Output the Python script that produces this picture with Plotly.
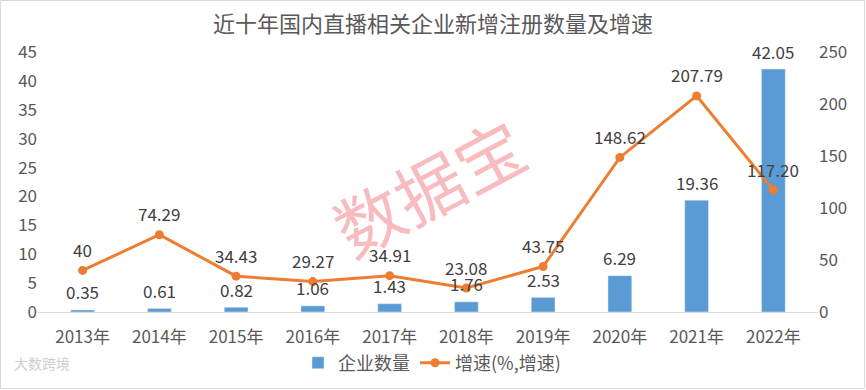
import plotly.graph_objects as go

years = ["2013年", "2014年", "2015年", "2016年", "2017年", "2018年", "2019年", "2020年", "2021年", "2022年"]
counts = [0.35, 0.61, 0.82, 1.06, 1.43, 1.76, 2.53, 6.29, 19.36, 42.05]
count_labels = ["0.35", "0.61", "0.82", "1.06", "1.43", "1.76", "2.53", "6.29", "19.36", "42.05"]
growth = [40, 74.29, 34.43, 29.27, 34.91, 23.08, 43.75, 148.62, 207.79, 117.20]
growth_labels = ["40", "74.29", "34.43", "29.27", "34.91", "23.08", "43.75", "148.62", "207.79", "117.20"]
left_ticks = [0, 5, 10, 15, 20, 25, 30, 35, 40, 45]
right_ticks = [0, 50, 100, 150, 200, 250]

FONT = "Noto Sans CJK SC, DejaVu Sans, sans-serif"
W, H = 866, 390
ML, MR, MT, MB = 38, 48, 52, 78
PW, PH = W - ML - MR, H - MT - MB

fig = go.Figure()
fig.add_trace(go.Bar(x=years, y=counts, name="企业数量", marker_color="#5B9BD5",
                     yaxis="y", hoverinfo="skip"))
fig.add_trace(go.Scatter(x=years, y=growth, name="增速(%,增速)", mode="lines+markers",
                         line=dict(color="#ED7D31", width=3), marker=dict(size=9, color="#ED7D31"),
                         yaxis="y2", hoverinfo="skip"))

annotations = []
for x, v, t in zip(years, counts, count_labels):
    annotations.append(dict(x=x, y=v, xref="x", yref="y", text=t, showarrow=False,
                            yshift=18, font=dict(size=17, color="#404040", family=FONT)))
for x, v, t in zip(years, growth, growth_labels):
    annotations.append(dict(x=x, y=v, xref="x", yref="y2", text=t, showarrow=False,
                            yshift=21, font=dict(size=17, color="#404040", family=FONT)))

# watermarks
annotations.append(dict(x=(428 - ML) / PW, y=1 - (185 - MT) / PH, xref="paper", yref="paper",
                        text="数据宝", showarrow=False, textangle=-28,
                        font=dict(size=68, color="rgba(240,120,130,0.5)", family=FONT)))
annotations.append(dict(x=(12 - ML) / PW, y=-(375 - MT - PH) / PH, xref="paper", yref="paper",
                        xanchor="left", text="大数跨境", showarrow=False,
                        font=dict(size=14, color="rgba(200,200,200,0.9)", family=FONT)))

fig.update_layout(
    width=W, height=H,
    margin=dict(l=ML, r=MR, t=MT, b=MB, autoexpand=False),
    paper_bgcolor="white", plot_bgcolor="white",
    title=dict(text="近十年国内直播相关企业新增注册数量及增速", x=0.5, xref="container", xanchor="center",
               y=1 - 24 / H, yanchor="middle", automargin=False,
               font=dict(size=22, color="#595959", family=FONT)),
    font=dict(family=FONT, color="#595959"),
    bargap=0.69,
    showlegend=True,
    legend=dict(orientation="h", x=(298 - ML) / PW, xanchor="left",
                y=-(363 - MT - PH) / PH, yanchor="middle",
                font=dict(size=18, color="#595959", family=FONT), bgcolor="rgba(0,0,0,0)",
                itemwidth=30, tracegroupgap=0),
    xaxis=dict(showgrid=False, showline=True, linecolor="#D9D9D9", linewidth=1, automargin=False,
               ticks="", ticklabelstandoff=10, tickfont=dict(size=17, color="#595959"), zeroline=False),
    yaxis=dict(range=[0, 45], tickvals=left_ticks, showgrid=False, zeroline=False, automargin=False,
               showline=False, tickfont=dict(size=17, color="#595959"), ticks=""),
    yaxis2=dict(range=[0, 250], tickvals=right_ticks, overlaying="y", side="right", automargin=False,
                showgrid=False, zeroline=False, showline=False,
                tickfont=dict(size=17, color="#595959"), ticks=""),
    annotations=annotations,
    shapes=[dict(type="rect", xref="paper", yref="paper",
                 x0=-(ML - 0.5) / PW, x1=1 + (MR - 1.5) / PW,
                 y0=-(MB - 1.5) / PH, y1=1 + (MT - 0.5) / PH,
                 line=dict(color="#D9D9D9", width=1), layer="below")],
)

fig.write_html("out.html", config={"displayModeBar": False, "staticPlot": True},
               post_script="document.body.style.margin='0';")
